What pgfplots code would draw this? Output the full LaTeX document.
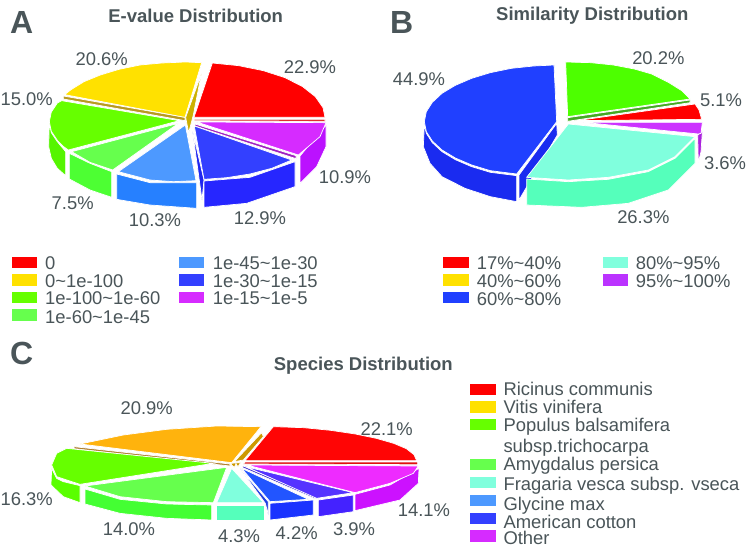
\documentclass[border=0pt]{standalone}
\usepackage{fontspec}
\setmainfont{Liberation Sans}
\usepackage{pgfplots}
\pgfplotsset{compat=1.18}
\definecolor{txt}{HTML}{4A5559}
\newcommand\tl{\textasciitilde{}}
\newcommand\poly[2]{\xglobal\definecolor{h#1}{HTML}{#1}\addplot[fill=h#1,draw=white,line width=0.7pt,no markers,forget plot] coordinates {#2} --cycle;}
\newcommand\swatch[5]{\xglobal\definecolor{h#1}{HTML}{#1}\addplot[fill=h#1,draw=none,no markers,forget plot] coordinates {(#2,#4) (#3,#4) (#3,#5) (#2,#5)} --cycle;}
\newcommand\lab[3]{\node[txt,font=\fontsize{18.4}{20}\selectfont,inner sep=0pt] at (axis cs:#1,#2) {#3};}
\newcommand\leg[3]{\node[txt,font=\fontsize{18.4}{20}\selectfont,inner sep=0pt,anchor=base west,yshift=-6.5pt] at (axis cs:#1,#2) {#3};}
\newcommand\ttl[3]{\node[txt,font=\fontsize{18.5}{20}\selectfont\bfseries,inner sep=0pt] at (axis cs:#1,#2) {#3};}
\newcommand\letter[3]{\node[txt,font=\fontsize{32}{34}\selectfont\bfseries,inner sep=0pt] at (axis cs:#1,#2) {#3};}
\pgfplotsset{pix/.style={at={(0pt,0pt)},anchor=south west,scale only axis,width=750pt,height=551pt,hide axis,clip=false,y dir=reverse}}
\begin{document}
\begin{tikzpicture}[x=1pt,y=1pt]
\fill[white,use as bounding box] (0,0) rectangle (750,551);
% ---------- Panel A and legends ----------
\begin{axis}[pix,xmin=0,xmax=2250,ymin=0,ymax=1653]
\letter{65}{68}{A}
\ttl{587}{48}{E-value Distribution}
% sides
\poly{B89A20}{(555,352)(555,362)(190,297)(190,288)}
\poly{CCB000}{(604,222)(557,352)(566,398)(580,345)}
\poly{E01010}{(582,358)(975,358)(975,364)(582,362)}
\poly{55F500}{(148,370)(154,398)(172,425)(197,455)(197,527)(172,505)(154,475)(146,440)}
\poly{4DFF33}{(208,460)(270,490)(335,515)(335,592)(270,570)(208,537)}
\poly{2680FF}{(350,522)(450,548)(590,548)(590,625)(450,615)(350,598)}
\poly{2026F0}{(578,395)(612,540)(606,600)}
\poly{2626FF}{(612,543)(750,532)(885,485)(885,560)(740,610)(612,622)}
\poly{A020C0}{(585,372)(888,467)(888,476)(585,378)}
\poly{BB11FF}{(978,375)(978,440)(950,500)(900,550)(900,468)}
% tops
\poly{FF0000}{(582,352)(637,189)(716,197)(790,212)(855,233)(908,260)(946,290)(969,323)(975,352)}
\poly{FFE100}{(555,352)(605,188)(555,186)(486,189)(420,195)(357,208)(301,225)(252,245)(213,269)(194,284)}
\poly{66FF00}{(538,362)(185,302)(172,309)(154,336)(148,365)(154,394)(172,421)(191,440)(205,450)}
\poly{66FF4D}{(535,370)(215,455)(270,487)(338,510)}
\poly{4D99FF}{(556,375)(355,515)(450,540)(520,545)(588,542)}
\poly{3340FF}{(583,378)(875,480)(815,505)(750,522)(680,533)(612,538)}
\poly{D62BFF}{(590,366)(978,368)(960,410)(895,465)}
\lab{930}{202}{22.9\%}
\lab{305}{177}{20.6\%}
\lab{80}{297}{15.0\%}
\lab{1035}{530}{10.9\%}
\lab{780}{655}{12.9\%}
\lab{465}{660}{10.3\%}
\lab{218}{610}{7.5\%}
% legend A
\swatch{FF0000}{35}{110}{770}{804}
\swatch{FFE100}{35}{110}{823}{857}
\swatch{66FF00}{35}{110}{876}{910}
\swatch{66FF4D}{35}{110}{928}{962}
\swatch{4D99FF}{537}{613}{770}{804}
\swatch{3340FF}{537}{613}{823}{857}
\swatch{D62BFF}{537}{613}{876}{910}
\leg{135}{790}{0}
\leg{135}{842}{0\tl1e-100}
\leg{135}{895}{1e-100\tl1e-60}
\leg{135}{952}{1e-60\tl1e-45}
\leg{638}{790}{1e-45\tl1e-30}
\leg{638}{842}{1e-30\tl1e-15}
\leg{638}{895}{1e-15\tl1e-5}
% legend B
\swatch{FF0000}{1330}{1407}{770}{804}
\swatch{FFE100}{1330}{1407}{823}{857}
\swatch{2040FF}{1330}{1407}{876}{910}
\swatch{80FFDD}{1808}{1884}{770}{804}
\swatch{BB33FF}{1808}{1884}{823}{857}
\leg{1430}{790}{17\%\tl40\%}
\leg{1430}{842}{40\%\tl60\%}
\leg{1430}{897}{60\%\tl80\%}
\leg{1907}{790}{80\%\tl95\%}
\leg{1907}{842}{95\%\tl100\%}
% legend C
\swatch{FF0000}{1410}{1487}{1152}{1185}
\swatch{FFE100}{1410}{1487}{1204}{1238}
\swatch{66FF00}{1410}{1487}{1258}{1291}
\swatch{66FF4D}{1410}{1487}{1376}{1410}
\swatch{80FFDD}{1410}{1487}{1431}{1465}
\swatch{4D99FF}{1410}{1487}{1485}{1519}
\swatch{3340FF}{1410}{1487}{1538}{1572}
\swatch{D62BFF}{1410}{1487}{1591}{1625}
\leg{1510}{1168}{Ricinus communis}
\leg{1510}{1222}{Vitis vinifera}
\leg{1510}{1276}{Populus balsamifera}
\leg{1510}{1338}{subsp.trichocarpa}
\leg{1510}{1392}{Amygdalus persica}
\leg{1510}{1452}{Fragaria vesca subsp. vseca}
\leg{1510}{1512}{Glycine max}
\leg{1510}{1566}{American cotton}
\leg{1510}{1615}{Other}
\end{axis}
% ---------- Panel B ----------
\begin{axis}[pix,xmin=-1125,xmax=1125,ymin=0,ymax=1653]
\letter{80}{68}{B}
\ttl{652}{48}{Similarity Distribution}
\poly{1A2BF0}{(148,375)(154,400)(172,428)(201,455)(241,479)(290,500)(346,517)(425,527)(425,605)(346,590)(270,565)(201,530)(165,490)(145,440)}
\poly{1A2BF0}{(432,525)(545,370)(547,405)(432,600)}
\poly{44AA22}{(578,353)(945,300)(945,308)(578,364)}
\poly{AA22DD}{(968,405)(982,395)(978,455)(970,487)}
\poly{55FFBB}{(960,415)(900,475)(820,515)(700,538)(580,545)(455,537)(455,615)(620,622)(760,610)(880,570)(960,490)}
\poly{2040FF}{(545,365)(537,195)(476,198)(409,205)(346,218)(290,235)(241,256)(201,280)(172,307)(154,335)(148,365)(154,395)(172,423)(201,450)(241,474)(290,495)(346,512)(425,522)}
\poly{4DFF00}{(578,350)(572,186)(647,188)(715,195)(778,207)(830,222)(880,247)(920,272)(945,297)}
\poly{FF0000}{(605,362)(960,312)(972,330)(980,358)}
\poly{CC33FF}{(625,367)(982,367)(978,400)(970,402)}
\poly{80FFDD}{(580,372)(960,410)(900,470)(820,510)(700,532)(580,540)(455,532)}
\lab{850}{175}{20.2\%}
\lab{1038}{302}{5.1\%}
\lab{1050}{490}{3.6\%}
\lab{805}{652}{26.3\%}
\lab{132}{238}{44.9\%}
\end{axis}
% ---------- Panel C ----------
\begin{axis}[pix,xmin=0,xmax=2250,ymin=-1020,ymax=633]
\letter{65}{40}{C}
\ttl{1090}{78}{Species Distribution}
\poly{E01010}{(735,366)(1253,366)(1253,374)(730,372)}
\poly{B08030}{(222,320)(690,372)(690,378)(222,326)}
\poly{CC9900}{(785,278)(703,365)(730,360)(790,290)}
\poly{CC9900}{(692,370)(722,368)(714,380)(708,372)(703,382)(695,375)}
\poly{5AFF00}{(155,385)(170,415)(190,425)(240,437)(240,488)(190,470)(153,435)}
\poly{44FF33}{(255,447)(360,478)(500,492)(635,495)(635,540)(500,535)(360,520)(255,492)}
\poly{55FFBB}{(650,495)(793,495)(793,540)(650,540)}
\poly{2040E0}{(720,385)(805,485)(805,525)(796,490)}
\poly{1A33FF}{(810,490)(940,480)(940,525)(810,540)}
\poly{4422FF}{(955,480)(1060,465)(1060,515)(955,530)}
\poly{3A2BD0}{(730,378)(945,470)(945,476)(726,382)}
\poly{CC11FF}{(1065,463)(1170,435)(1257,385)(1255,430)(1200,480)(1065,512)}
\poly{FF0505}{(735,362)(820,260)(911,263)(992,271)(1066,282)(1129,295)(1181,310)(1219,326)(1242,344)(1250,362)}
\poly{FFB30D}{(695,368)(783,260)(650,258)(500,268)(370,285)(240,312)}
\poly{66FF00}{(640,370)(200,325)(170,340)(155,375)(170,410)(240,433)}
\poly{66FF4D}{(680,382)(255,438)(360,470)(500,485)(640,488)}
\poly{80FFDD}{(695,385)(790,488)(650,488)}
\poly{2255FF}{(725,385)(925,478)(810,485)}
\poly{5533FF}{(737,380)(1060,458)(950,475)}
\poly{EE2BFF}{(740,375)(1255,378)(1240,400)(1170,430)(1065,458)}
\lab{440}{205}{20.9\%}
\lab{1160}{268}{22.1\%}
\lab{80}{478}{16.3\%}
\lab{387}{566}{14.0\%}
\lab{717}{588}{4.3\%}
\lab{890}{578}{4.2\%}
\lab{1062}{568}{3.9\%}
\lab{1272}{510}{14.1\%}
\end{axis}
\end{tikzpicture}
\end{document}
